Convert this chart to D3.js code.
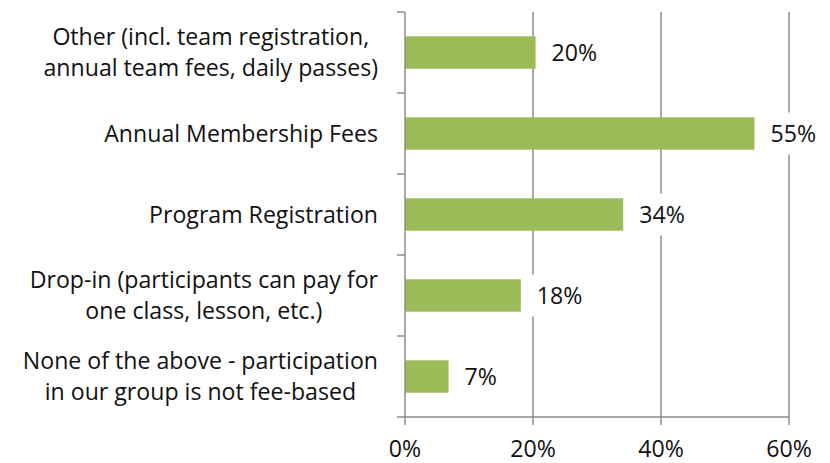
<!DOCTYPE html>
<html><head><meta charset="utf-8">
<script src="https://cdn.jsdelivr.net/npm/d3@7"></script>
<style>body{margin:0;background:#fff}svg{display:block}text{font-family:"Open Sans",Lato,sans-serif;fill:#111}</style>
</head><body>
<svg id="c" width="830" height="463"></svg>
<script>
const categories = [
  ["Other (incl. team registration,", "annual team fees, daily passes)"],
  ["Annual Membership Fees"],
  ["Program Registration"],
  ["Drop-in (participants can pay for", "one class, lesson, etc.)"],
  ["None of the above - participation", "in our group is not fee-based"]
];
const values = [20.4, 54.6, 34.1, 18.1, 6.8];
const valueLabels = ["20%", "55%", "34%", "18%", "7%"];
const tickValues = [0, 20, 40, 60];
const tickLabels = ["0%", "20%", "40%", "60%"];

const svg = d3.select("#c");
const pLeft = 405, pRight = 789, pTop = 12, pBottom = 417;
const x = d3.scaleLinear().domain([0, 60]).range([pLeft, pRight]);
const y = d3.scaleBand().domain(d3.range(categories.length)).range([pTop, pBottom]).padding(0);
const barH = y.bandwidth() * 0.4;
const grid = "#8c8c8c";

const probe = svg.append("text").attr("font-size", 20).text("Annual Membership Fees");
const fs = 20 * 274 / probe.node().getComputedTextLength();
probe.remove();

svg.append("g").selectAll("line").data(tickValues.slice(1)).join("line")
  .attr("x1", d => x(d)).attr("x2", d => x(d))
  .attr("y1", pTop).attr("y2", pBottom + 8)
  .attr("stroke", grid).attr("stroke-width", 1.5);

svg.append("g").selectAll("rect").data(values).join("rect")
  .attr("x", x(0)).attr("width", d => x(d) - x(0))
  .attr("y", (d, i) => y(i) + (y.bandwidth() - barH) / 2)
  .attr("height", barH).attr("fill", "#9BBB59");

svg.append("line").attr("x1", pLeft).attr("x2", pLeft).attr("y1", pTop).attr("y2", pBottom + 8)
  .attr("stroke", grid).attr("stroke-width", 1.5);
svg.append("line").attr("x1", pLeft).attr("x2", pRight).attr("y1", pBottom).attr("y2", pBottom)
  .attr("stroke", grid).attr("stroke-width", 1.5);
const catTicks = d3.range(categories.length + 1).map(i => pTop + i * y.step());
svg.append("g").selectAll("line").data(catTicks).join("line")
  .attr("x1", pLeft - 8).attr("x2", pLeft).attr("y1", d => d).attr("y2", d => d)
  .attr("stroke", grid).attr("stroke-width", 1.5);

svg.append("g").selectAll("text").data(tickValues).join("text")
  .attr("x", d => x(d)).attr("y", 457).attr("text-anchor", "middle")
  .attr("font-size", fs).text((d, i) => tickLabels[i]);

categories.forEach((lines, i) => {
  const g = svg.append("g");
  const n = lines.length, lh = 31;
  const cy = y(i) + y.bandwidth() / 2 + 8;
  const texts = lines.map((s, j) => g.append("text").attr("font-size", fs)
    .attr("y", cy + (j - (n - 1) / 2) * lh).text(s));
  const w = d3.max(texts, t => t.node().getComputedTextLength());
  texts.forEach(t => t.attr("text-anchor", "middle").attr("x", 378 - w / 2));
});

const vl = svg.append("g").selectAll("g").data(values).join("g");
vl.each(function(d, i) {
  const g = d3.select(this);
  const bg = g.append("rect").attr("fill", "#fff");
  const cy = y(i) + y.bandwidth() / 2;
  const t = g.append("text").attr("font-size", fs)
    .attr("x", x(d) + 16).attr("y", cy + 8.5).text(valueLabels[i]);
  const b = t.node().getBBox();
  bg.attr("x", b.x - 8).attr("y", cy - 21).attr("width", b.width + 16).attr("height", 42);
});
</script>
</body></html>
